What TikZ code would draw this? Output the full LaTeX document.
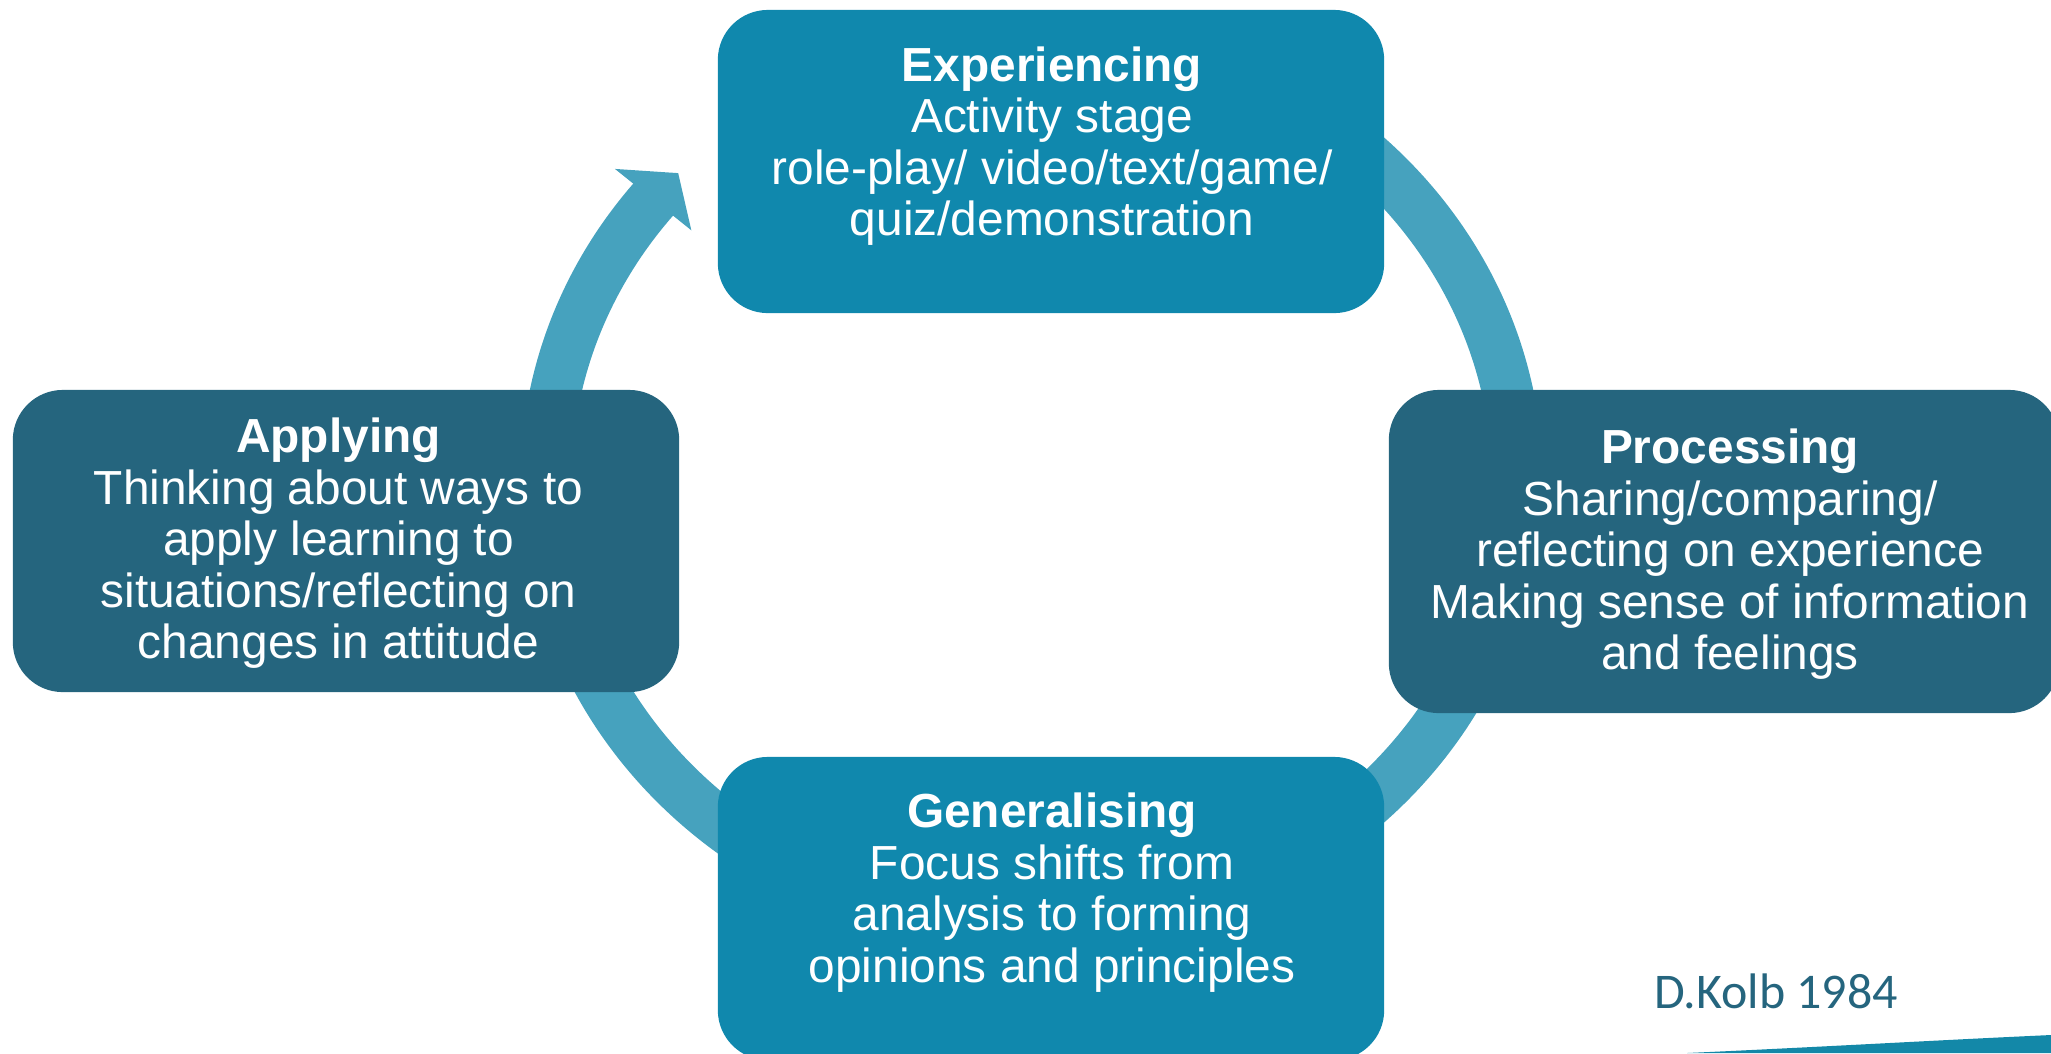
\documentclass[tikz,border=0pt]{standalone}
\usepackage{fontspec}
\setmainfont{Liberation Sans}
\newfontfamily\kolbfont{Carlito}
\definecolor{stagelight}{HTML}{1088AD}
\definecolor{stagedark}{HTML}{25657E}
\definecolor{cyclering}{HTML}{46A2BE}
\definecolor{swoosh}{HTML}{1388A8}
\begin{document}
\begin{tikzpicture}[x=0.01cm, y=0.01cm]
	\tikzstyle{every node}+=[inner sep=0pt]
	\tikzstyle{stage}=[rounded corners=0.5cm, minimum width=6.66cm, minimum height=3.03cm]
	\tikzstyle{stage text}=[text=white, align=center, font=\fontsize{13.6}{14.65}\selectfont]
	\useasboundingbox (0,0) rectangle (2051,-1053);
	\fill [swoosh] (1687,-1053) .. controls (1820,-1047) and (1940,-1040) .. (2051,-1035) -- (2051,-1053) -- cycle;
	\coordinate (hub) at (1031.5,-480);
	\draw [cyclering, line width=0.51cm] (hub) ++(75:485.5 and 447.5) arc [start angle=75, end angle=-219.5, x radius=485.5, y radius=447.5];
	\fill [cyclering, shift={(hub)}] (141.2:534.5 and 496.5) -- (136.7:485.5 and 447.5) -- (141.2:436.5 and 398.5) -- cycle;
	\node [stage, fill=stagelight] (exp) at (1051,-161.5) {};
	\node [stage, fill=stagedark, minimum height=3.02cm] (app) at (346,-541) {};
	\node [stage, fill=stagedark, minimum width=6.7cm, minimum height=3.23cm] (proc) at (1724,-551.5) {};
	\node [stage, fill=stagelight] (gen) at (1051,-908.5) {};
	\node [stage text] (exp text) at (1052,-146.3) {\textbf{Experiencing}\\Activity stage\\role-play/ video/text/game/\\quiz/demonstration};
	\node [stage text] (app text) at (338.5,-543.5) {\textbf{Applying}\\Thinking about ways to\\apply learning to\\situations/reflecting on\\changes in attitude};
	\node [stage text] (proc text) at (1730,-554.5) {\textbf{Processing}\\Sharing/comparing/\\reflecting on experience\\Making sense of information\\and feelings};
	\node [stage text] (gen text) at (1052,-892.5) {\textbf{Generalising}\\Focus shifts from\\analysis to forming\\opinions and principles};
	\node [text=stagedark, font=\kolbfont\fontsize{14.2}{17}\selectfont, anchor=base] (kolb) at (1776,-1008) {D.Kolb 1984};
\end{tikzpicture}
\end{document}
